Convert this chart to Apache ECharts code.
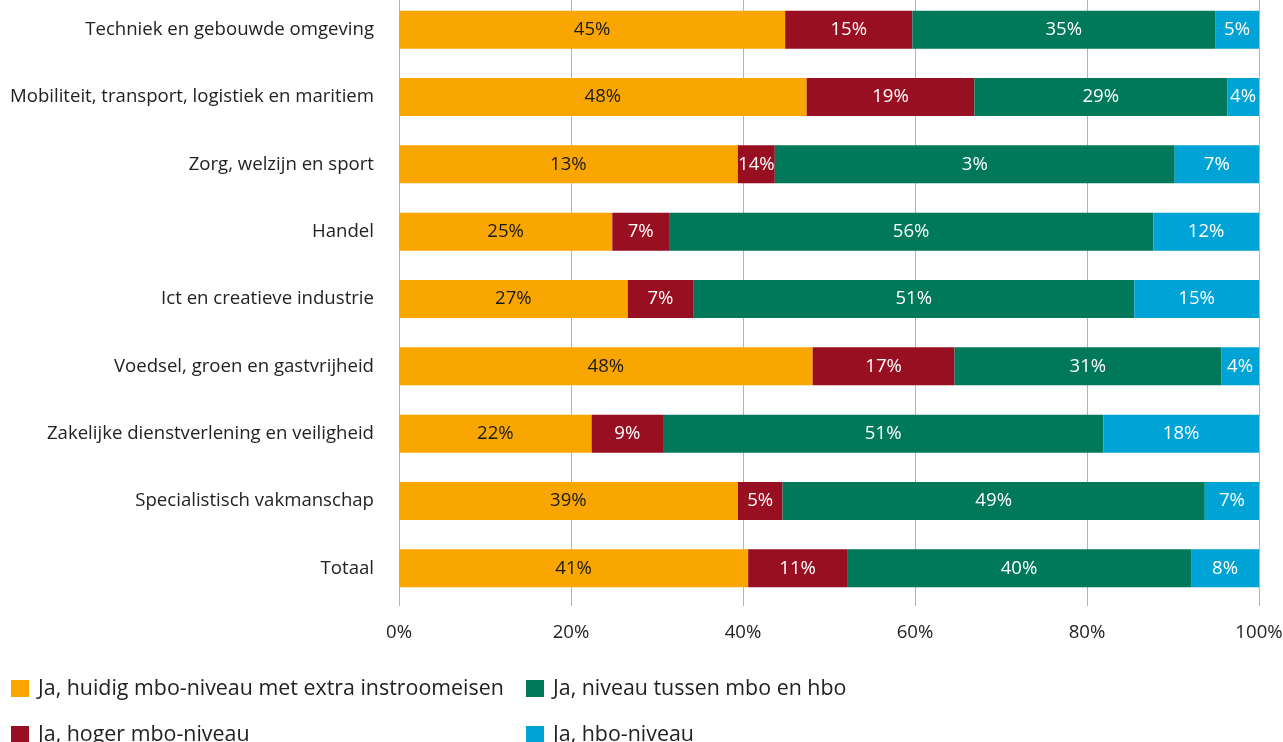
<!DOCTYPE html>
<html>
<head>
<meta charset="utf-8">
<script src="https://cdn.jsdelivr.net/npm/echarts@6/dist/echarts.min.js"></script>
<style>
html,body{margin:0;padding:0;background:#fff;}
#chart{width:1283px;height:742px;}
</style>
</head>
<body>
<div id="chart"></div>
<script>
const categories = [
  "Techniek en gebouwde omgeving",
  "Mobiliteit, transport, logistiek en maritiem",
  "Zorg, welzijn en sport",
  "Handel",
  "Ict en creatieve industrie",
  "Voedsel, groen en gastvrijheid",
  "Zakelijke dienstverlening en veiligheid",
  "Specialistisch vakmanschap",
  "Totaal"
];
const seriesNames = [
  "Ja, huidig mbo-niveau met extra instroomeisen",
  "Ja, hoger mbo-niveau",
  "Ja, niveau tussen mbo en hbo",
  "Ja, hbo-niveau"
];
// bar widths (as drawn)
const huidig = [44.9, 47.4, 39.4, 24.8, 26.6, 48.1, 22.4, 39.4, 40.6];
const hoger  = [14.8, 19.5, 4.3, 6.6, 7.6, 16.5, 8.3, 5.2, 11.5];
const tussen = [35.2, 29.4, 46.5, 56.3, 51.3, 31.0, 51.2, 49.1, 40.0];
const hbo    = [5.1, 3.7, 9.8, 12.3, 14.5, 4.4, 18.1, 6.3, 7.9];
// labels as printed
const huidigLabels = ["45%", "48%", "13%", "25%", "27%", "48%", "22%", "39%", "41%"];
const hogerLabels  = ["15%", "19%", "14%", "7%", "7%", "17%", "9%", "5%", "11%"];
const tussenLabels = ["35%", "29%", "3%", "56%", "51%", "31%", "51%", "49%", "40%"];
const hboLabels    = ["5%", "4%", "7%", "12%", "15%", "4%", "18%", "7%", "8%"];
const xTicks = [0, 20, 40, 60, 80, 100];

const colors = ["#FAA600", "#990F22", "#00785A", "#00A3D6"];
const values = [huidig, hoger, tussen, hbo];
const labels = [huidigLabels, hogerLabels, tussenLabels, hboLabels];
const labelColors = ["#1a1a1a", "#ffffff", "#ffffff", "#ffffff"];
const FONT = "'Open Sans', 'Noto Sans', sans-serif";
const FS = 18.6;

const legendPos = [[11, 678], [11, 724], [526, 678], [526, 724]];

const chart = echarts.init(document.getElementById('chart'), null, {renderer: 'canvas'});
chart.setOption({
  animation: false,
  textStyle: {fontFamily: FONT},
  grid: {left: 399, right: 24, top: -4, bottom: 140, containLabel: false, outerBoundsMode: 'none'},
  xAxis: {
    type: 'value', min: xTicks[0], max: xTicks[xTicks.length - 1], interval: 20,
    axisLine: {show: false},
    axisTick: {show: true, length: 4, lineStyle: {color: '#b3b3b3'}},
    splitLine: {show: true, lineStyle: {color: '#b3b3b3', width: 1}},
    axisLabel: {formatter: v => v + '%', color: '#222', fontSize: FS, fontFamily: FONT, margin: 21}
  },
  yAxis: {
    type: 'category', data: categories, inverse: true,
    axisLine: {show: false}, axisTick: {show: false},
    axisLabel: {color: '#222', fontSize: FS, fontFamily: FONT, margin: 25}
  },
  legend: seriesNames.map((n, i) => ({
    data: [n],
    left: legendPos[i][0], top: legendPos[i][1], padding: 0,
    itemWidth: 18, itemHeight: 17, itemGap: 0, icon: 'rect',
    textStyle: {fontSize: 21.4, color: '#222', fontFamily: FONT, padding: [0, 0, 0, 4]}
  })),
  series: seriesNames.map((name, i) => ({
    name: name,
    type: 'bar',
    stack: 'total',
    barWidth: 38,
    itemStyle: {color: colors[i]},
    label: {
      show: true, position: 'inside',
      color: labelColors[i], fontSize: FS, fontFamily: FONT,
      formatter: p => labels[i][p.dataIndex]
    },
    data: values[i]
  }))
});
</script>
</body>
</html>
